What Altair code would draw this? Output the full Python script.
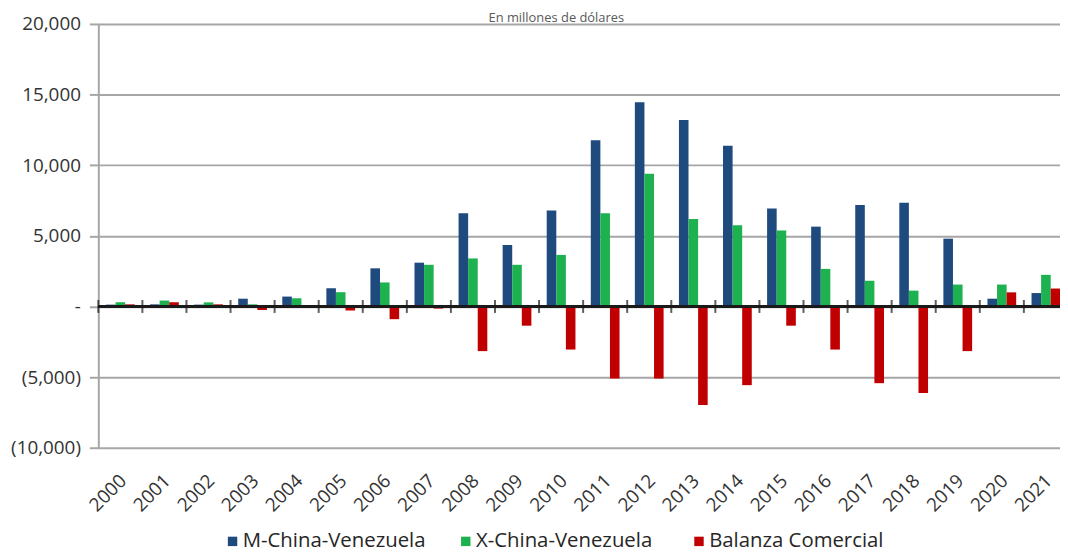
import altair as alt
import pandas as pd

years = ["2000", "2001", "2002", "2003", "2004", "2005", "2006", "2007", "2008", "2009", "2010",
         "2011", "2012", "2013", "2014", "2015", "2016", "2017", "2018", "2019", "2020", "2021"]
series = ["M-China-Venezuela", "X-China-Venezuela", "Balanza Comercial"]
colors = ["#1f4a7e", "#1db14f", "#c00000"]

m_china_ven = [130, 150, 130, 550, 700, 1290, 2700, 3100, 6600, 4350, 6800,
               11770, 14450, 13200, 11370, 6940, 5650, 7190, 7350, 4800, 550, 950]
x_china_ven = [300, 420, 290, 150, 580, 1010, 1700, 2950, 3400, 2950, 3650,
               6600, 9400, 6200, 5750, 5380, 2660, 1820, 1120, 1550, 1550, 2240]
balanza = [150, 300, 150, -250, -100, -280, -900, -150, -3160, -1360, -3050,
           -5100, -5100, -6980, -5570, -1360, -3050, -5430, -6130, -3160, 1000, 1270]

y_ticks = [-10000, -5000, 0, 5000, 10000, 15000, 20000]

rows = []
for name, vals in zip(series, [m_china_ven, x_china_ven, balanza]):
    for yr, v in zip(years, vals):
        rows.append({"year": yr, "series": name, "value": v})
df = pd.DataFrame(rows)
years_df = pd.DataFrame({"year": years})

FONT = "Open Sans"
GRID = "#a6a6a6"
TXT = "#333333"

x_scale = alt.Scale(range=[0, 977], paddingInner=0, paddingOuter=0)
x_axis = alt.Axis(orient="bottom", domain=False, ticks=False, grid=False, title=None,
                  labelAngle=-45, labelAlign="right", labelBaseline="middle",
                  labelPadding=30, labelOffset=3, labelFont=FONT, labelFontSize=19,
                  labelColor=TXT)

label_expr = ("datum.value == 0 ? '-\u00a0\u00a0' : (datum.value < 0 ? '(' + format(-datum.value, ',') + ')'"
              " : format(datum.value, ',') + '\u00a0')")
y_axis = alt.Axis(values=y_ticks, labelExpr=label_expr, title=None, grid=True,
                  gridColor=GRID, gridWidth=2, domainColor=GRID, domainWidth=2,
                  tickColor=GRID, tickWidth=2, tickSize=9, labelPadding=9,
                  labelFont=FONT, labelFontSize=19, labelColor=TXT)

bars = alt.Chart(df).mark_bar().encode(
    x=alt.X("year:N", scale=x_scale, axis=x_axis),
    xOffset=alt.XOffset("series:N", sort=series,
                        scale=alt.Scale(paddingOuter=0.8, paddingInner=0)),
    y=alt.Y("value:Q", scale=alt.Scale(domain=[-10000, 20000], nice=False), axis=y_axis),
    color=alt.Color("series:N", sort=series,
                    scale=alt.Scale(domain=series, range=colors),
                    legend=alt.Legend(orient="none", legendX=125, legendY=511,
                                      direction="horizontal", columns=3, gridAlign="all",
                                      columnPadding=30, symbolType="square", symbolSize=90,
                                      symbolStrokeWidth=0, labelFont=FONT, labelFontSize=20.5,
                                      labelColor="#262626", labelOffset=0, labelLimit=0,
                                      title=None, padding=0)),
)

zero_line = alt.Chart(years_df).mark_rule(color="#1a1a1a", strokeWidth=2).encode(
    y=alt.datum(0)
)

ticks = alt.Chart(years_df).mark_tick(orient="vertical", color="#1a1a1a",
                                       thickness=2, size=13).encode(
    x=alt.X("year:N", bandPosition=0, scale=x_scale, axis=x_axis),
    y=alt.datum(0),
)

chart = alt.layer(bars, zero_line, ticks).properties(
    width=969,
    height=427,
    padding={"left": 91, "top": 14, "right": 0, "bottom": 104},
    autosize=alt.AutoSizeParams(type="none"),
    background="white",
    title=alt.TitleParams("En millones de dólares", font=FONT, fontSize=13,
                          fontWeight="normal", color="#595959", anchor="middle",
                          dx=-23, offset=-10),
).configure_view(stroke=None)

chart.save("out.html", embed_options={"renderer": "svg", "actions": False})
